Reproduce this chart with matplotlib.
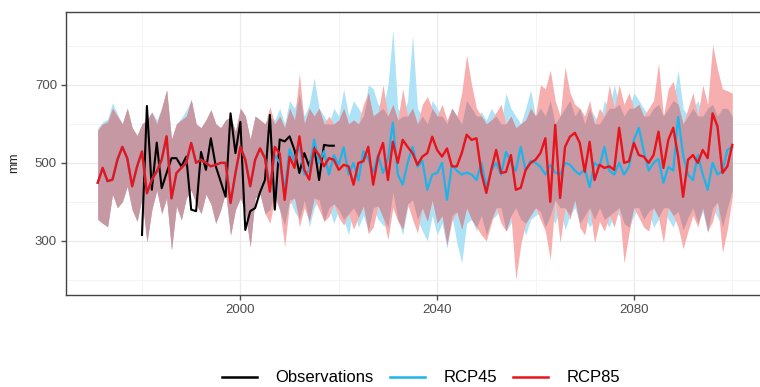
import numpy as np
import matplotlib
matplotlib.use("Agg")
import matplotlib.pyplot as plt
from matplotlib.lines import Line2D

plt.rcParams['font.family'] = ['Liberation Sans', 'DejaVu Sans']

years = list(range(1971, 2101))
obs_years = list(range(1980, 2020))

observations = [315, 646, 431, 552, 435, 474, 512, 512, 491, 516,
                380, 376, 528, 482, 563, 491, 452, 413, 627, 525,
                605, 328, 376, 384, 425, 456, 623, 380, 560, 555,
                568, 533, 474, 525, 491, 541, 456, 546, 544, 544]

rcp85_mean = [449, 487, 453, 457, 508, 541, 512, 440, 491, 529,
              422, 457, 478, 508, 568, 409, 474, 487, 500, 551,
              500, 508, 500, 491, 495, 500, 500, 397, 474, 541,
              508, 440, 508, 537, 512, 426, 541, 524, 405, 516,
              487, 568, 482, 457, 537, 520, 491, 512, 508, 482,
              495, 491, 444, 500, 504, 541, 444, 516, 551, 456,
              554, 500, 559, 541, 525, 495, 516, 525, 567, 533,
              516, 537, 491, 491, 525, 572, 559, 563, 474, 423,
              482, 533, 474, 477, 520, 431, 436, 482, 500, 508,
              525, 563, 400, 597, 410, 541, 567, 577, 551, 477,
              554, 456, 495, 487, 491, 482, 590, 500, 504, 551,
              520, 516, 500, 520, 580, 487, 559, 590, 516, 413,
              508, 520, 500, 533, 512, 627, 593, 474, 491, 546]

rcp85_upper = [584, 600, 605, 640, 620, 600, 640, 590, 570, 600,
               610, 630, 600, 640, 687, 560, 600, 610, 620, 662,
               600, 590, 610, 636, 600, 590, 610, 618, 580, 640,
               620, 560, 620, 610, 600, 644, 600, 620, 590, 640,
               610, 730, 600, 640, 620, 640, 600, 620, 600, 610,
               640, 600, 610, 600, 650, 680, 620, 630, 700, 620,
               650, 610, 690, 620, 640, 600, 650, 670, 640, 620,
               650, 610, 640, 620, 680, 777, 700, 640, 620, 600,
               610, 630, 650, 600, 620, 590, 600, 610, 640, 620,
               700, 690, 738, 660, 620, 746, 680, 650, 640, 620,
               660, 600, 640, 620, 700, 640, 700, 650, 680, 640,
               650, 620, 640, 660, 756, 620, 690, 710, 650, 600,
               640, 680, 620, 700, 650, 803, 740, 690, 685, 679]

rcp85_lower = [355, 345, 336, 420, 385, 400, 440, 380, 350, 410,
               297, 380, 430, 370, 410, 277, 390, 354, 410, 430,
               395, 370, 420, 395, 345, 380, 425, 315, 380, 410,
               375, 285, 410, 420, 370, 345, 410, 380, 285, 395,
               410, 336, 385, 350, 410, 380, 350, 362, 395, 360,
               340, 370, 330, 360, 390, 318, 335, 390, 360, 303,
               385, 350, 330, 395, 355, 320, 385, 350, 405, 345,
               365, 290, 350, 375, 330, 385, 355, 335, 315, 300,
               345, 385, 345, 325, 365, 200, 290, 345, 365, 385,
               355, 325, 251, 405, 295, 385, 355, 405, 335, 315,
               385, 295, 350, 325, 365, 335, 385, 243, 320, 385,
               360, 335, 325, 385, 360, 295, 385, 365, 335, 280,
               325, 365, 335, 385, 325, 350, 400, 269, 330, 413]

rcp45_mean = [449, 487, 453, 457, 508, 541, 512, 440, 491, 529,
              422, 457, 478, 508, 568, 409, 474, 487, 500, 551,
              500, 508, 500, 491, 495, 500, 500, 397, 474, 541,
              508, 440, 508, 537, 512, 440, 520, 500, 430, 535,
              505, 545, 470, 480, 560, 500, 530, 470, 520, 495,
              540, 470, 500, 455, 530, 510, 475, 520, 474, 510,
              603, 470, 444, 500, 541, 490, 505, 431, 470, 474,
              500, 405, 495, 480, 470, 475, 470, 456, 500, 438,
              480, 500, 470, 528, 500, 480, 541, 480, 505, 500,
              490, 470, 495, 475, 470, 500, 495, 480, 470, 485,
              438, 500, 490, 541, 480, 470, 500, 470, 490, 559,
              590, 530, 480, 500, 510, 449, 490, 480, 618, 520,
              470, 456, 520, 470, 431, 500, 470, 480, 533, 541]

rcp45_upper = [590, 605, 612, 654, 625, 600, 640, 590, 570, 600,
               610, 630, 610, 640, 687, 560, 600, 615, 635, 662,
               600, 590, 610, 636, 600, 590, 610, 618, 580, 640,
               620, 560, 620, 610, 600, 620, 610, 640, 600, 660,
               640, 680, 620, 650, 718, 640, 620, 600, 640, 620,
               690, 620, 660, 640, 620, 700, 690, 650, 640, 700,
               841, 640, 620, 660, 828, 640, 620, 600, 660, 640,
               620, 600, 640, 620, 600, 660, 640, 620, 630, 610,
               640, 620, 600, 679, 640, 620, 600, 640, 687, 620,
               640, 620, 660, 600, 620, 640, 660, 620, 640, 600,
               640, 620, 600, 660, 640, 700, 650, 620, 640, 680,
               660, 640, 620, 640, 650, 620, 640, 660, 738, 640,
               620, 640, 660, 620, 640, 650, 620, 640, 640, 620]

rcp45_lower = [355, 345, 336, 420, 385, 400, 440, 380, 350, 410,
               297, 380, 430, 370, 410, 277, 390, 354, 410, 430,
               395, 370, 420, 395, 345, 380, 425, 315, 380, 410,
               375, 285, 410, 420, 370, 380, 425, 375, 340, 405,
               375, 355, 405, 335, 385, 405, 350, 385, 345, 380,
               355, 315, 385, 335, 365, 325, 385, 355, 340, 335,
               425, 355, 315, 385, 405, 355, 325, 300, 365, 315,
               345, 280, 365, 295, 243, 345, 355, 325, 365, 315,
               355, 365, 385, 325, 345, 385, 355, 315, 355, 365,
               375, 335, 365, 345, 385, 328, 365, 385, 345, 365,
               335, 355, 385, 355, 335, 375, 365, 345, 335, 365,
               385, 355, 375, 335, 355, 385, 355, 335, 375, 328,
               360, 385, 345, 375, 320, 385, 360, 335, 385, 430]

x_ticks = [2000, 2040, 2080]
y_ticks = [300, 500, 700]
legend_labels = ["Observations", "RCP45", "RCP85"]

col45 = '#1EB4EA'
col85 = '#E8131B'
fill45 = '#AEE3F7'
fill85 = '#F7AEAE'
fill_both = '#C598A3'

W, H = 760, 387
fig = plt.figure(figsize=(W / 100, H / 100), dpi=100)
ax = fig.add_axes([66 / W, 1 - 295 / H, (764 - 66) / W, (295 - 12) / H])

yr = np.array(years)
u45, l45 = np.array(rcp45_upper), np.array(rcp45_lower)
u85, l85 = np.array(rcp85_upper), np.array(rcp85_lower)
ax.fill_between(yr, l45, u45, color=fill45, lw=0, zorder=2)
ax.fill_between(yr, l85, u85, color=fill85, lw=0, zorder=3)
lo = np.maximum(l45, l85)
hi = np.minimum(u45, u85)
ax.fill_between(yr, lo, hi, where=hi >= lo, interpolate=True, color=fill_both, lw=0, zorder=4)

ax.plot(obs_years, observations, color='black', lw=1.5, zorder=5)
ax.plot(years, rcp45_mean, color=col45, lw=1.6, zorder=6)
ax.plot(years, rcp85_mean, color=col85, lw=1.7, zorder=7)

ax.set_xlim(1964.55, 2106.45)
ax.set_ylim(161, 887)
ax.set_xticks(x_ticks)
ax.set_xticks([1980, 2020, 2060, 2100], minor=True)
ax.set_yticks(y_ticks)
ax.set_yticks([200, 400, 600, 800], minor=True)
ax.grid(which='major', color='#EBEBEB', lw=0.9, zorder=0)
ax.grid(which='minor', color='#F2F2F2', lw=0.6, zorder=0)
ax.set_axisbelow(True)
ax.tick_params(which='major', length=3.5, width=1.0, color='#4D4D4D',
               labelsize=9.5, labelcolor='#4D4D4D', pad=3)
ax.tick_params(which='minor', length=0)
for s in ax.spines.values():
    s.set_color('#444444')
    s.set_linewidth(1.0)

fig.text(14 / W, 1 - 163 / H, 'mm', rotation=90, ha='center', va='center',
         fontsize=9, color='#222222')

handles = [Line2D([], [], color='black', lw=1.8),
           Line2D([], [], color=col45, lw=1.8),
           Line2D([], [], color=col85, lw=1.8)]
fig.legend(handles, legend_labels, loc='center', bbox_to_anchor=(421 / W, 1 - 378 / H),
           ncol=3, frameon=False, fontsize=12, handlelength=2.1,
           handletextpad=1.1, columnspacing=1.0, borderaxespad=0)

fig.savefig('out.png', dpi=100)
